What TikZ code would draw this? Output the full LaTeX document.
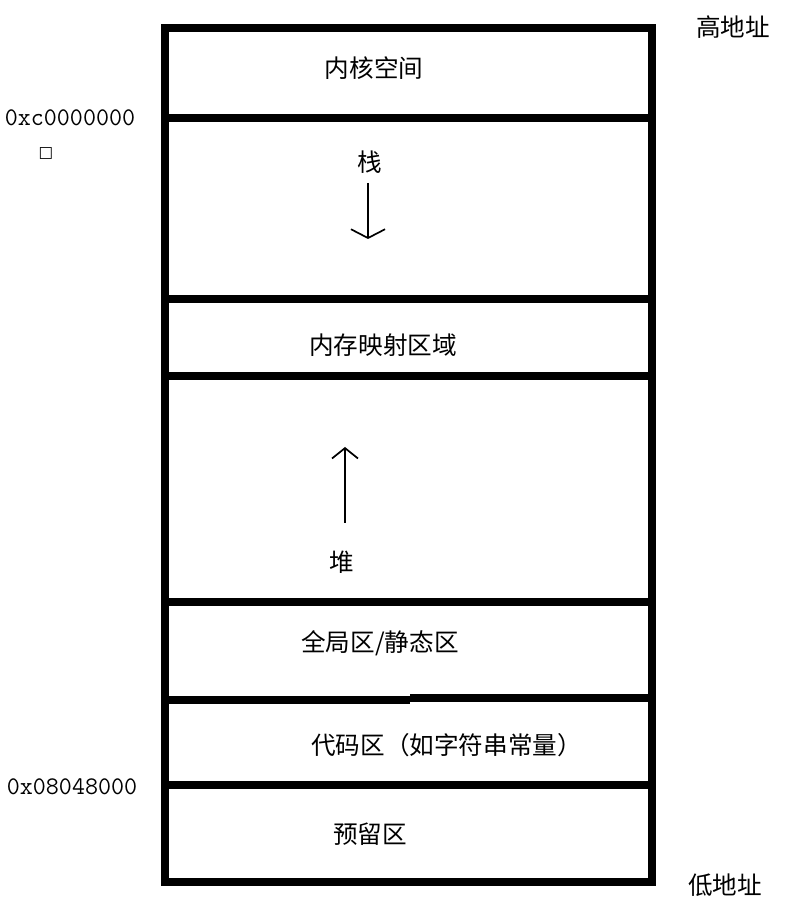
\documentclass[tikz,border=0pt]{standalone}
\usepackage{fontspec}
\usetikzlibrary{arrows.meta}
\newfontfamily\cjk{Noto Sans CJK SC}
\newfontfamily\symfont{DejaVu Sans}

\begin{document}
\begin{tikzpicture}[
  wall/.style={line width=5pt},
  seg/.style={inner sep=0pt, font=\cjk\fontsize{17.5}{21}\selectfont},
  addr/.style={inner sep=0pt, font=\ttfamily\fontsize{18}{21}\selectfont},
  growarr/.style={line width=1.2pt}
]
  \useasboundingbox (0,0) rectangle (19.625,22.775);

  % frame and dividers
  \draw[wall] (4.125,0.725) rectangle (16.3,22.075);
  \draw[wall] (4.125,19.825) -- (16.4,19.825);
  \draw[wall] (4.125,15.3) -- (16.3,15.3);
  \draw[wall] (4.125,13.375) -- (16.3,13.375);
  \draw[wall] (4.125,7.725) -- (16.3,7.725);
  \draw[wall] (4.125,5.275) -- (10.25,5.275);
  \draw[wall] (10.25,5.325) -- (16.3,5.325);
  \draw[wall] (4.125,3.15) -- (16.3,3.15);

  % segments
  \node[seg] (kernel) at (9.35,21.075) {内核空间};
  \node[seg] (stack) at (9.25,18.725) {栈};
  \node[seg] (mmap) at (9.575,14.15) {内存映射区域};
  \node[seg] (heap) at (8.55,8.725) {堆};
  \node[seg] (data) at (9.5,6.7) {全局区/静态区};
  \node[seg, anchor=west] (text) at (7.775,4.15) {代码区（如字符串常量）};
  \node[seg] (reserved) at (9.25,1.925) {预留区};

  % growth directions
  \coordinate (stacktop) at (9.2,18.2);
  \coordinate (stackend) at (9.2,16.8);
  \coordinate (heapbot) at (8.625,9.7);
  \coordinate (heapend) at (8.625,11.6);
  \draw[growarr, -{Straight Barb[length=2.2mm, width=8.5mm]}] (stacktop) -- (stackend);
  \draw[growarr, -{Straight Barb[length=2.6mm, width=6.5mm]}] (heapbot) -- (heapend);

  % addresses
  \node[addr] (kaddr) at (1.75,19.825) {0xc0000000};
  \node[inner sep=0pt, font=\symfont\fontsize{11}{13}\selectfont] (mark) at (1.15,18.95) {□};
  \node[addr] (baddr) at (1.8,3.1) {0x08048000};
  \node[seg] (hiaddr) at (18.325,22.1) {高地址};
  \node[seg] (loaddr) at (18.125,0.65) {低地址};
\end{tikzpicture}
\end{document}
